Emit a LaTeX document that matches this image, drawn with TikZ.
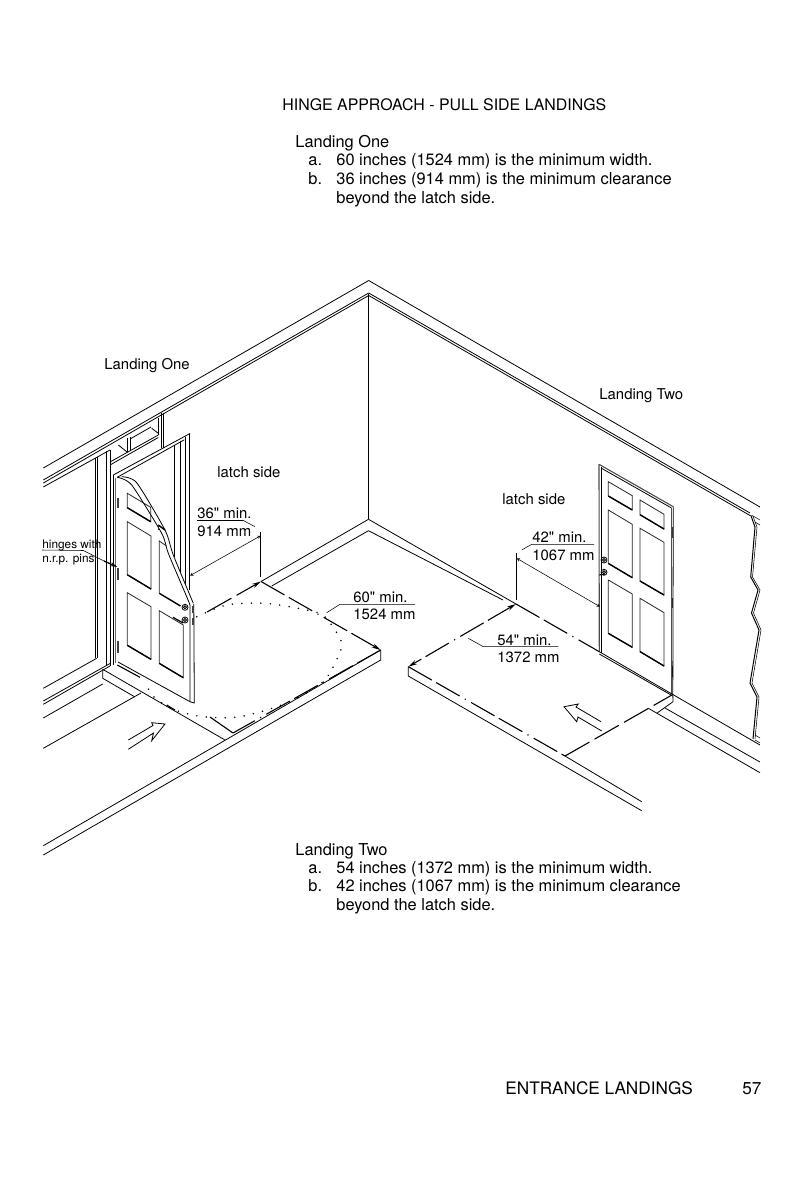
\documentclass[tikz,border=0pt]{standalone}
\usepackage{fontspec}
\setmainfont{TeX Gyre Heros}[Ligatures=TeXOff]
\usetikzlibrary{positioning, arrows.meta}

\begin{document}
\begin{tikzpicture}[x=1pt, y=-1pt, line width=0.8pt, >=stealth,
	txt/.style={anchor=base west, inner sep=0pt, font=\fontsize{16.4}{19}\selectfont},
	head/.style={anchor=base west, inner sep=0pt, font=\fontsize{15.9}{19}\selectfont},
	foot/.style={anchor=base west, inner sep=0pt, font=\fontsize{17.2}{20}\selectfont},
	lbl/.style={anchor=base west, inner sep=0pt, font=\fontsize{14.9}{17}\selectfont},
	tiny/.style={anchor=base west, inner sep=0pt, font=\fontsize{11.8}{13}\selectfont},
	thin line/.style={line width=0.55pt},
	bigtip/.tip={Stealth[length=9pt, width=4.5pt]},
	run/.style={line width=1.1pt, dash pattern=on 27pt off 5pt on 27pt off 6pt on 1.2pt off 6pt},
	rundash/.style={line width=1.1pt, dash pattern=on 28pt off 6pt},
	dots/.style={line width=1.7pt, line cap=round, dash pattern=on 0pt off 9.5pt},
	panel/.style={line width=0.8pt, black!85, line join=miter},
	panelfoot/.style={line width=1.4pt},
	hingebox/.style={fill=black!75, draw=none}]
	\useasboundingbox (0,0) rectangle (795,1193);

	\node[head] (title) at (282,111) {HINGE APPROACH - PULL SIDE LANDINGS};
	\node[txt] (oneh) at (295,148) {Landing One};
	\node[txt] (onea) at (308,166) {a.};
	\node[txt] (oneat) at (336,166) {60 inches (1524 mm) is the minimum width.};
	\node[txt] (oneb) at (308,185) {b.};
	\node[txt] (onebt) at (336,185) {36 inches (914 mm) is the minimum clearance};
	\node[txt] (onec) at (336,204) {beyond the latch side.};
	\node[txt] (twoh) at (295,855) {Landing Two};
	\node[txt] (twoa) at (308,873) {a.};
	\node[txt] (twoat) at (336,873) {54 inches (1372 mm) is the minimum width.};
	\node[txt] (twob) at (308,891) {b.};
	\node[txt] (twobt) at (336,891) {42 inches (1067 mm) is the minimum clearance};
	\node[txt] (twoc) at (336,910) {beyond the latch side.};
	\node[foot] (footer) at (505,1094.5) {ENTRANCE LANDINGS};
	\node[foot] (page) at (742,1094.5) {57};

	\node[lbl] (lone) at (104,369) {Landing One};
	\node[lbl] (ltwo) at (599,399) {Landing Two};
	\node[lbl] (lsone) at (217,477) {latch side};
	\node[lbl] (lstwo) at (502,504) {latch side};
	\node[lbl] (d36) at (197,518) {36" min.};
	\node[lbl] (d914) at (197,536) {914 mm};
	\node[lbl] (d42) at (532,542) {42" min.};
	\node[lbl] (d1067) at (532,560) {1067 mm};
	\node[lbl] (d54) at (497,645) {54" min.};
	\node[lbl] (d1372) at (497,662) {1372 mm};
	\node[lbl] (d60) at (353,602) {60" min.};
	\node[lbl] (d1524) at (353,619) {1524 mm};
	\node[tiny] (hinga) at (42,548) {hinges with};
	\node[tiny] (hingb) at (42,562) {n.r.p. pins};

	\coordinate (peak) at (368.7,280.5);
	\coordinate (corner) at (368.5,294);
	\coordinate (floorc) at (368.5,519.3);
	\coordinate (basec) at (368.5,530.7);
	\coordinate (oneA) at (261,581.5);
	\coordinate (oneR) at (380.7,650);
	\coordinate (oneS) at (380.7,660);
	\coordinate (oneF) at (233,733);
	\coordinate (oneL) at (102.7,669.3);
	\coordinate (oneM) at (102.7,678.3);
	\coordinate (twoA) at (516,604);
	\coordinate (twoL) at (408.3,666.7);
	\coordinate (twoS) at (408.3,676);
	\coordinate (twoF) at (565,756);
	\coordinate (twoR) at (672.8,694.5);
	\coordinate (twoD) at (599.3,651.7);

	\draw (peak) -- (43.3,468);
	\draw (peak) -- (760,507);
	\draw (368.7,293) -- (43.3,480);
	\draw (368.7,295.5) -- (43.3,483);
	\draw (110,450) -- (43.3,487);
	\draw (368.7,293) -- (750,513);
	\draw (368.7,295.5) -- (750,515.5);
	\draw (corner) -- (floorc);
	\draw (floorc) -- (oneA);
	\draw (basec) -- (271.7,586);
	\draw (floorc) -- (twoA);
	\draw (basec) -- (503,600);

	\draw[thin line] (161.7,413) -- (161.7,448);
	\draw[thin line] (162.9,413) -- (162.9,448);
	\draw[thin line] (158.3,418) -- (158.3,435);
	\draw (113.3,475) -- (190,433.5);
	\draw (117.3,477.3) -- (184.3,439.8);
	\draw (110,462) -- (158.3,435);
	\draw (110,465) -- (158.3,437.5);
	\draw (118.3,445) -- (126.7,451.7);
	\draw (151.7,428.3) -- (158.3,433.3);
	\draw (130,439) -- (151,427);
	\draw[thin line] (127.5,438) -- (127.5,452);
	\draw[thin line] (130,437) -- (130,451);

	\draw[thin line] (95.3,458) -- (95.3,658);
	\draw[thin line] (97.5,457) -- (97.5,658);
	\draw[thin line] (106.7,451) -- (106.7,666);
	\draw[thin line] (110,450) -- (110,666);
	\draw[thin line] (113.3,475) -- (113.3,665);
	\draw[line width=1.4pt, black!60] (115.5,478) -- (115.5,663);
	\draw[thin line] (174.3,445) -- (174.3,557);
	\draw[thin line] (180,441) -- (180,572);
	\draw[thin line] (185,436.5) -- (185,584);
	\draw[line width=1.6pt] (189.3,434) -- (189.3,590);

	\draw plot[smooth, tension=0.4] coordinates {(117.3,477.3) (131.7,485) (161.7,533.3) (168.3,553.3) (186.7,596.7) (190,605)};
	\draw plot[smooth, tension=0.4] coordinates {(121.7,476.7) (136.7,482.7) (165,530) (173.3,555) (193.3,603.3)};
	\draw (190,605) -- (190,701.7) -- (118,662);
	\draw (193.8,604) -- (194.3,703) -- (190,701.7);

	\foreach \xa/\ya/\xb/\yb/\hh in {
		127.3/493.3/150.7/507.3/14.4, 127.3/521.7/151/536/53, 127.3/592.7/151/606.7/52.6,
		159.3/610.7/183.3/625/52.7,
		608.3/481.7/632.3/495.7/14.3, 640/500/664/514.3/14.7,
		608.3/510/632.3/524.3/53.4, 640/528.3/664/542.3/52.7,
		608.3/580/632.3/594/53.3, 640/598.3/664/612.7/53.3} {
		\draw[panel] (\xa,\ya) -- (\xb,\yb) -- (\xb,\yb+\hh) -- (\xa,\ya+\hh) -- cycle;
		\draw[panelfoot] (\xa,\ya+\hh) -- (\xb,\yb+\hh);
	}
	\draw[panel] (166.5,546) -- (159.3,541) -- (159.3,593.3);
	\draw[panelfoot] (159.3,593.3) -- (180.5,606);
	\draw[panelfoot] (158.3,525) -- (165,530);
	\draw[panel] (158.3,525) -- (158.3,530);

	\foreach \hx/\hy/\hh in {116.5/498/10, 116.5/568/12, 116.5/641/12, 191.5/606/7, 191.5/618/7, 670.5/527/11, 670.5/598/10, 670.5/666/11}
		\fill[hingebox] (\hx,\hy) rectangle ++(2.5,\hh);
	\draw (185,607.3) circle (3);
	\draw (185,607.3) circle (1.5);
	\draw (185,620) circle (3);
	\draw (185,620) circle (1.5);
	\draw[line width=1.2pt] (173,617.3) -- (183,623);
	\draw (604,560) circle (3);
	\draw (604,560) circle (1.5);
	\draw (604,572.3) circle (3);
	\draw (604,572.3) circle (1.5);
	\draw[line width=1.2pt] (599,575) -- (605,574);

	\draw[line width=1.1pt, black!70] (599,464.3) -- (twoD);
	\draw (601.3,467) -- (601.3,653);
	\draw[line width=1.1pt, black!70] (599,464.3) -- (673.3,506.7);
	\draw (601,468) -- (671.5,508);
	\draw (673.3,506.7) -- (twoR);
	\draw[line width=1pt, black!70] (671.5,508) -- (671.5,694);
	\draw (twoD) -- (twoR);
	\draw (599.3,654) -- (672,695.5);

	\draw (oneR) -- (oneS) -- (43.3,855);
	\draw (oneR) -- (43.3,845.7);
	\draw (oneL) -- (oneM) -- (135,697);
	\draw (oneL) -- (225,740);
	\draw (96.7,658.3) -- (43.3,688.3);
	\draw (110,663.5) -- (43.3,701);
	\draw (110,666) -- (43.3,704.3);
	\draw (102.7,684) -- (43.3,718);
	\draw (141,693) -- (43.3,748.3);

	\draw (twoL) -- (twoS) -- (641.7,810.7);
	\draw (twoF) -- (641.7,801.7);
	\draw (twoR) -- (673,701.7) -- (656.7,713.3);
	\draw (twoR) -- (760,745);
	\draw (665,708) -- (760,762);
	\draw (648.3,708.3) -- (660,715) -- (760,772.7);

	\draw[line width=1pt] (750.7,515) -- (755,527) -- (750.7,577) -- (758,590) -- (751.5,613) -- (759,630) -- (750,683) -- (757,697) -- (753,739);
	\draw[thin line] (752.5,515) -- (757,527) -- (752.5,577) -- (760,590) -- (753.5,613) -- (761,630) -- (752,683) -- (759,697) -- (755,739);
	\draw[thin line] (753,516) -- (760,520);
	\draw[thin line] (755,522) -- (760,525);
	\draw[thin line] (755,735) -- (760,738);
	\draw[thin line] (755,740) -- (760,743);

	\draw[rundash, -bigtip] (207,612) -- (oneA);
	\draw[run, -bigtip] (oneA) -- (oneR);
	\draw[run] (oneR) -- (oneF);
	\draw[line width=1.1pt] (oneF) -- (210,717);
	\draw[line width=1.1pt] (117.3,665) -- (140,677.3);
	\draw[line width=1.1pt] (166.7,705) -- (175,710);
	\draw[run, bigtip-bigtip] (twoA) -- (twoL);
	\draw[run] (twoA) -- (twoD);
	\draw[run] (twoL) -- (twoF);
	\draw[rundash] (twoF) -- (twoR);

	\draw[dots] plot[smooth] coordinates {(196.7,616.7) (226.7,605) (260,603) (273,604) (306.7,610) (323,615) (335,630) (341.7,643.3) (338,656.7) (323,681.7) (286.7,703) (240,716.7) (203,716.7) (175,710) (155,698) (145,683)};

	\draw[thin line, <->] (190,575.7) -- (260.7,535.7);
	\draw[thin line] (260.7,531.7) -- (260.7,577);
	\draw[thin line] (197,520.5) -- (243.3,520.5) -- (255,526.7);
	\draw[thin line, <->] (516.7,558.3) -- (600,606.7);
	\draw[thin line] (516,553.3) -- (516,600);
	\draw[thin line] (521.7,550) -- (531.7,544.3) -- (594,544.3);
	\draw[thin line] (468.3,638.3) -- (483.3,646.7) -- (558.3,646.7);
	\draw[thin line] (326.7,612.7) -- (340,604.3) -- (415,604.3);
	\draw[thin line] (42,550) -- (83.3,550.5) -- (106,562);
	\draw[line width=1.2pt, -{Stealth[length=7pt, width=4pt]}] (104,561) -- (117.3,567);

	\draw (128.3,740) -- (153,725.5) -- (151.7,722.7) -- (165,724) -- (151.7,740.7) -- (153.5,733) -- (128.3,749.3);
	\draw (601,721.7) -- (576,707) -- (578.3,704) -- (564,706.7) -- (576.7,721.7) -- (578,717) -- (601.7,731);
\end{tikzpicture}
\end{document}
